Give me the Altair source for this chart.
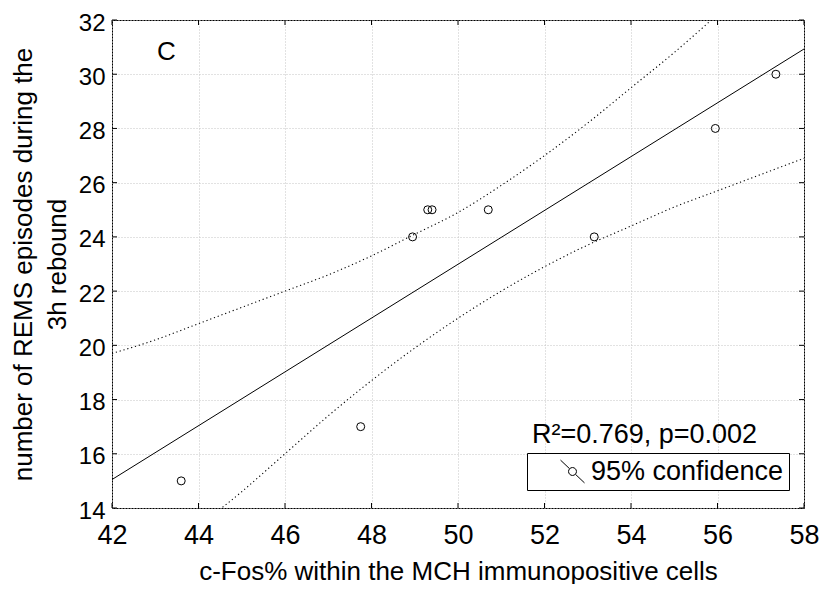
import altair as alt
import pandas as pd

# ---- data ----
pts_x = [43.6, 47.75, 48.95, 49.3, 49.4, 50.7, 53.15, 55.95, 57.35]
pts_y = [15, 17, 24, 25, 25, 25, 24, 28, 30]

fit_x = [42, 58]
fit_y = [15.05, 30.93]

band_x = [42, 43, 44, 45, 46, 47, 48, 49, 50, 51, 52, 53, 54, 55, 56, 57, 58]
band_upper = [19.7, 20.2, 20.8, 21.4, 22.0, 22.6, 23.3, 24.1, 24.9, 25.9, 27.0, 28.2, 29.5, 30.8, 32.2, 33.6, 35.0]
band_lower = [10.4, 11.8, 13.3, 14.6, 16.0, 17.4, 18.7, 19.9, 21.0, 22.0, 22.9, 23.7, 24.4, 25.1, 25.7, 26.3, 26.9]

x_ticks = [42, 44, 46, 48, 50, 52, 54, 56, 58]
y_ticks = [14, 16, 18, 20, 22, 24, 26, 28, 30, 32]

panel_label = "C"
panel_label_pos = (43.04, 30.52)
stats_text = "R\u00b2=0.769, p=0.002"
stats_pos = (51.71, 16.40)
legend_label = "95% confidence"

x_title = "c-Fos% within the MCH immunopositive cells"
y_title = ["number of REMS episodes during the", "3h rebound"]

FONT = "Liberation Sans, Arial, sans-serif"
W, H = 692, 488
PAD_L = 104
PAD_T = 12

x_scale = alt.Scale(domain=[42, 58], nice=False, zero=False)
y_scale = alt.Scale(domain=[14, 32], nice=False, zero=False)

GRID = "#c4c4c4"

x_axis = alt.Axis(values=x_ticks, grid=True, gridColor=GRID, gridDash=[1, 2],
                  domain=False, ticks=False, tickSize=0, labelFont=FONT,
                  labelFontSize=27, labelColor="black", labelPadding=14,
                  labelFlush=False, labelOverlap=False,
                  title=x_title, titleFont=FONT, titleFontSize=26,
                  titleFontWeight="normal", titleColor="black",
                  titleY=71, titleBaseline="alphabetic")
y_axis = alt.Axis(values=y_ticks, grid=True, gridColor=GRID, gridDash=[1, 2],
                  domain=False, ticks=False, tickSize=0, labelFont=FONT,
                  labelFontSize=24, labelColor="black", labelPadding=7,
                  labelOffset=3, labelFlush=False, labelOverlap=False,
                  title=y_title, titleFont=FONT, titleFontSize=26,
                  titleFontWeight="normal", titleColor="black",
                  titleAngle=270, titleX=-(PAD_L + 8 - 31), titleY=H / 2,
                  titleAlign="center", titleBaseline="alphabetic",
                  titleLineHeight=34)

X = alt.X("x:Q", scale=x_scale, axis=x_axis)
Y = alt.Y("y:Q", scale=y_scale, axis=y_axis)

df_pts = pd.DataFrame({"x": pts_x, "y": pts_y, "series": [legend_label] * len(pts_x)})
df_fit = pd.DataFrame({"x": fit_x, "y": fit_y})
df_up = pd.DataFrame({"x": band_x, "y": band_upper})
df_lo = pd.DataFrame({"x": band_x, "y": band_lower})

symbol_path = ("M-1,-0.95L-0.24,-0.23M0.24,0.23L1,0.95"
               "M0.33,0A0.33,0.33,0,1,1,-0.33,0A0.33,0.33,0,1,1,0.33,0")

base_grid = alt.Chart(df_fit).mark_line(opacity=0).encode(x=X, y=Y)

fit = alt.Chart(df_fit).mark_line(color="black", strokeWidth=1, clip=True).encode(x=X, y=Y)
upper = alt.Chart(df_up).mark_line(color="black", strokeWidth=1.1, strokeDash=[1.2, 2.8],
                                   clip=True, interpolate="monotone").encode(x=X, y=Y)
lower = alt.Chart(df_lo).mark_line(color="black", strokeWidth=1.1, strokeDash=[1.2, 2.8],
                                   clip=True, interpolate="monotone").encode(x=X, y=Y)

points = alt.Chart(df_pts).mark_point(shape="circle", filled=False, size=64,
                                      strokeWidth=1, opacity=1).encode(
    x=X, y=Y,
    color=alt.Color("series:N", scale=alt.Scale(domain=[legend_label], range=["black"]),
                    legend=alt.Legend(title=None, orient="none", legendX=527 - (PAD_L + 8),
                                      legendY=453 - (PAD_T + 8),
                                      strokeColor="black", fillColor="white", padding=5,
                                      cornerRadius=0, symbolType=symbol_path,
                                      symbolSize=576, symbolStrokeWidth=1,
                                      symbolStrokeColor="black", symbolOffset=27,
                                      labelOffset=5, labelFont=FONT, labelFontSize=27,
                                      labelColor="black", labelLimit=400))
)

# inward ticks on all four sides
df_xt = pd.DataFrame({"x": x_ticks})
df_yt = pd.DataFrame({"y": y_ticks})
tick_b = alt.Chart(df_xt).mark_rule(color="black", strokeWidth=1).encode(
    x=X, y=alt.value(H), y2=alt.value(H - 5))
tick_t = alt.Chart(df_xt).mark_rule(color="black", strokeWidth=1).encode(
    x=X, y=alt.value(0), y2=alt.value(5))
tick_l = alt.Chart(df_yt).mark_rule(color="black", strokeWidth=1).encode(
    y=Y, x=alt.value(0), x2=alt.value(5))
tick_r = alt.Chart(df_yt).mark_rule(color="black", strokeWidth=1).encode(
    y=Y, x=alt.value(W), x2=alt.value(W - 5))

df_c = pd.DataFrame({"x": [panel_label_pos[0]], "y": [panel_label_pos[1]], "t": [panel_label]})
df_s = pd.DataFrame({"x": [stats_pos[0]], "y": [stats_pos[1]], "t": [stats_text]})
txt_c = alt.Chart(df_c).mark_text(font=FONT, fontSize=26, align="left", baseline="alphabetic",
                                  color="black").encode(x=X, y=Y, text="t:N")
txt_s = alt.Chart(df_s).mark_text(font=FONT, fontSize=27, align="left", baseline="alphabetic",
                                  color="black").encode(x=X, y=Y, text="t:N")

chart = alt.layer(base_grid, upper, lower, fit, points, tick_b, tick_t, tick_l, tick_r,
                  txt_c, txt_s).properties(
    width=W, height=H,
    padding={"left": PAD_L, "top": PAD_T, "right": 15, "bottom": 76},
    autosize=alt.AutoSizeParams(type="none"),
    background="white",
).configure_view(stroke="black", strokeWidth=1)

chart.save("out.html", embed_options={"renderer": "svg", "actions": False})
